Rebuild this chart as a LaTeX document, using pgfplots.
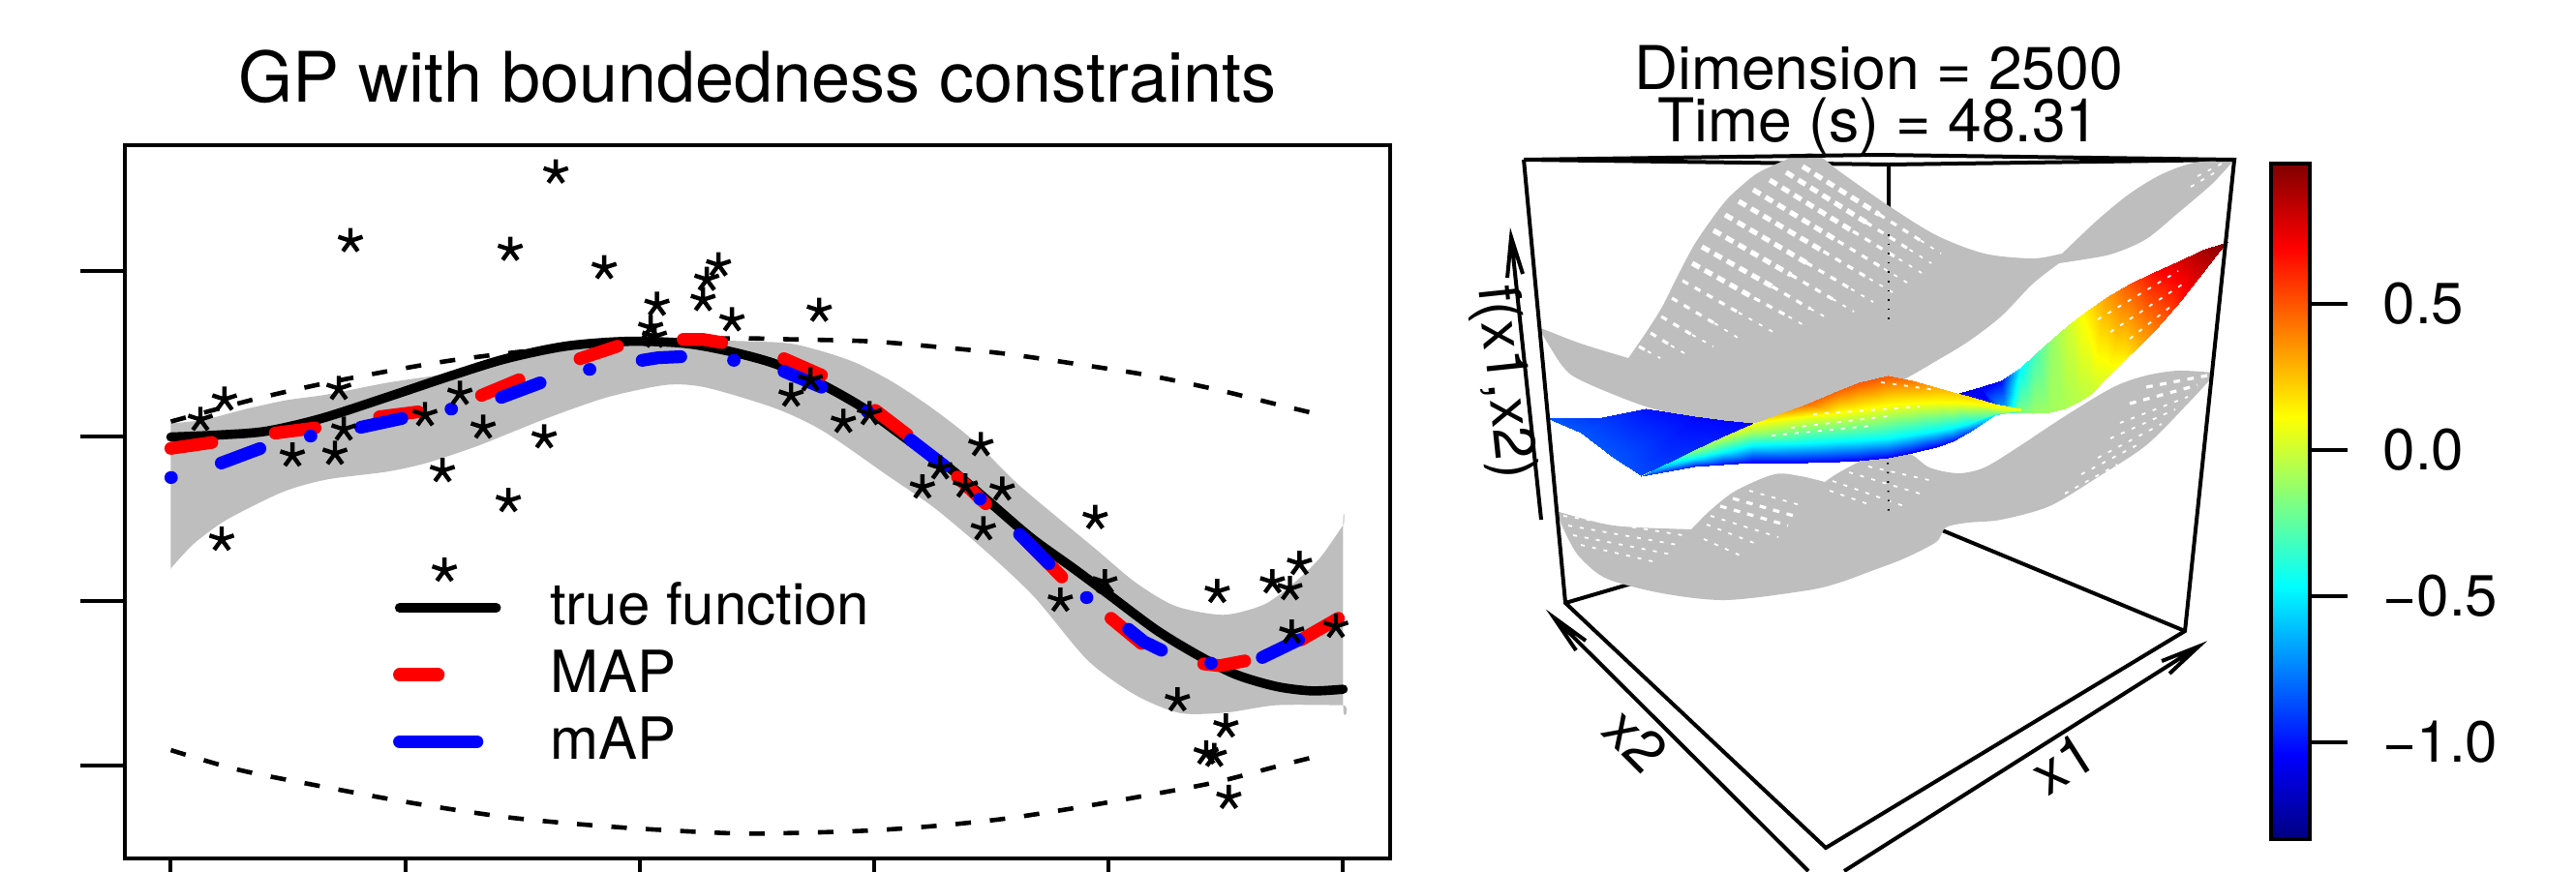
\documentclass[border=0pt]{standalone}
\usepackage{fontspec}
\setmainfont{TeX Gyre Heros}
\usepackage{pgfplots}
\pgfplotsset{compat=1.18}
\usepgfplotslibrary{patchplots}
\definecolor{surfgray}{HTML}{BEBEBE}
% 1 px of the reference = 0.25pt
\pgfplotsset{
  holeA/.style={white, line width=1.3pt, dash pattern=on 2.2pt off 1.5pt, unbounded coords=jump},
  holeB/.style={white, line width=.8pt, dash pattern=on 1.7pt off 1.9pt, unbounded coords=jump},
  holeC/.style={white, line width=.45pt, dash pattern=on 1pt off 2pt, unbounded coords=jump},
  boxline/.style={black, line width=1pt, unbounded coords=jump},
}
\begin{document}
\begin{tikzpicture}
\path[use as bounding box] (0,0) rectangle (665.25pt,225pt);

% left panel
\begin{axis}[
  at={(32.25pt,3.25pt)}, anchor=south west,
  width=326.75pt, height=184.25pt, scale only axis,
  xmin=-0.0392, xmax=1.0401, ymin=-2.566, ymax=1.767,
  xtick={0,0.2,0.4,0.6,0.8,1}, ytick={-2,-1,0,1},
  xticklabels={}, yticklabels={},
  tick align=outside, tick pos=left,
  major tick length=11.5pt,
  axis line style={line width=1pt},
  tick style={black, line width=1pt},
  title={GP with boundedness constraints},
  every axis title shift=0pt,
  title style={at={(0.5,1)}, anchor=base, yshift=11pt, inner sep=0pt, font=\fontsize{18}{20}\selectfont},
  legend style={at={(axis cs:0.184,-0.885)}, anchor=north west, draw=none, fill=none,
    inner sep=0pt, row sep=2.3pt, font=\fontsize{15}{18}\selectfont,
    nodes={inner sep=0pt, text height=11pt, text depth=4pt}},
  legend cell align=left,
  legend image code/.code={\path (0pt,0pt) (38.7pt,0pt); \draw[#1] (1.5pt,1pt) -- (26.5pt,1pt);},
]
% grey band
\addplot[fill=surfgray, draw=none, forget plot, smooth, tension=.45] coordinates {
(0,.076)(0,.076)(.029,.100)(.064,.164)(.098,.217)(.133,.252)(.184,.323)(.245,.393)(.320,.540)(.389,.587)
(.515,.570)(.549,.528)(.584,.446)(.617,.323)(.652,.156)(.686,-.035)(.721,-.282)(.755,-.487)
(.789,-.687)(.823,-.890)(.857,-1.033)(.898,-1.086)(.933,-1.022)(.960,-.881)(.981,-.734)(1,-.540)(1,-.540)
(1,-1.635)(1,-1.635)(.943,-1.635)(.901,-1.679)(.861,-1.683)(.823,-1.574)(.782,-1.362)(.737,-.981)(.697,-.711)
(.652,-.440)(.611,-.238)(.556,.032)(.515,.170)(.457,.294)(.423,.311)(.372,.235)(.320,.106)
(.262,-.059)(.218,-.164)(.184,-.217)(.133,-.264)(.095,-.341)(.047,-.511)(.019,-.658)(0,-.804)(0,-.804)
} -- cycle;
% bounds
\addplot[black, line width=1.15pt, dash pattern=on 4pt off 4.9pt, smooth, forget plot] coordinates {
(0,.088)(.071,.223)(.125,.311)(.176,.382)(.238,.458)(.304,.517)(.372,.569)(.475,.593)(.532,.587)
(.597,.575)(.656,.540)(.713,.499)(.775,.435)(.833,.370)(.892,.282)(.946,.188)(.984,.123)};
\addplot[black, line width=1.15pt, dash pattern=on 4pt off 4.9pt, smooth, forget plot] coordinates {
(0,-1.908)(.057,-2.026)(.127,-2.126)(.205,-2.228)(.291,-2.319)(.385,-2.378)(.478,-2.413)(.532,-2.411)
(.597,-2.396)(.656,-2.366)(.713,-2.323)(.775,-2.255)(.833,-2.182)(.892,-2.102)(.946,-2.002)(.984,-1.934)};
% true function
\addplot[black, line width=2.4pt, line cap=round, smooth, forget plot] coordinates {
(0,-.006)(.040,.006)(.081,.029)(.128,.106)(.184,.235)(.238,.364)(.286,.470)(.337,.546)(.389,.575)
(.437,.564)(.475,.517)(.515,.440)(.556,.311)(.594,.156)(.631,-.035)(.662,-.182)(.697,-.393)
(.734,-.619)(.769,-.799)(.799,-.957)(.841,-1.180)(.878,-1.339)(.909,-1.450)(.943,-1.521)(.973,-1.548)(1,-1.538)};
% MAP
\addplot[red, line width=3.3pt, line cap=round, line join=round, unbounded coords=jump, forget plot] coordinates {
(0,-.075)(.035,-.039)(nan,nan)
(.089,.018)(.123,.049)(nan,nan)
(.178,.117)(.211,.147)(nan,nan)
(.265,.247)(.297,.342)(nan,nan)
(.349,.470)(.381,.546)(nan,nan)
(.437,.587)(.454,.587)(.470,.568)(nan,nan)
(.523,.470)(.555,.370)(nan,nan)
(.601,.156)(.628,.009)(nan,nan)
(.671,-.249)(.695,-.411)(nan,nan)
(.729,-.631)(.760,-.856)(nan,nan)
(.802,-1.107)(.828,-1.260)(nan,nan)
(.881,-1.384)(.895,-1.395)(.916,-1.366)(nan,nan)
(.964,-1.238)(.996,-1.107)};
% mAP
\addplot[blue, line width=3.3pt, line cap=round, line join=round, unbounded coords=jump, forget plot] coordinates {
(0,-.252)(.0005,-.252)(nan,nan)
(.043,-.164)(.076,-.076)(nan,nan)
(.119,0)(.1195,0)(nan,nan)
(.162,.053)(.197,.107)(nan,nan)
(.239,.164)(.2395,.164)(nan,nan)
(.282,.235)(.315,.323)(nan,nan)
(.357,.405)(.3575,.405)(nan,nan)
(.402,.460)(.416,.476)(.435,.482)(nan,nan)
(.480,.460)(.4805,.460)(nan,nan)
(.523,.393)(.555,.297)(nan,nan)
(.594,.149)(.5945,.149)(nan,nan)
(.631,-.023)(.660,-.182)(nan,nan)
(.690,-.382)(.6905,-.382)(nan,nan)
(.724,-.597)(.749,-.775)(nan,nan)
(.781,-.981)(.7815,-.981)(nan,nan)
(.817,-1.174)(.830,-1.249)(.845,-1.301)(nan,nan)
(.887,-1.380)(.8875,-1.380)(nan,nan)
(.931,-1.345)(.962,-1.238)};
% observations
\addplot[only marks, mark=star, mark size=3.3pt, mark options={black, line width=1.1pt}, forget plot] coordinates {
(.3284,1.603)(.1532,1.186)(.2895,1.133)(.3697,1.022)(.4672,1.039)(.4572,.951)(.4540,.828)(.4147,.799)
(.4787,.705)(.4093,.658)(.4126,.605)(.0458,.223)(.0252,.100)(.1433,.288)(.2466,.258)(.1475,.041)
(.2168,.129)(.2664,.053)(.1037,-.117)(.1400,-.106)(.3185,-.006)(.2317,-.211)(.2879,-.393)(.0434,-.628)
(.2334,-.816)(.5531,.763)(.5456,.341)(.5291,.247)(.5737,.088)(.5960,.135)(.6910,-.053)(.6563,-.194)
(.6411,-.311)(.6778,-.305)(.7092,-.323)(.6931,-.564)(.7885,-.496)(.7588,-.998)(.7968,-.887)(.8926,-.945)
(.9397,-.887)(.9628,-.775)(.9546,-.928)(.9562,-1.192)(.9938,-1.157)(.8587,-1.603)(.9000,-1.762)
(.8832,-1.926)(.8901,-1.941)(.9025,-2.196)};
\addlegendimage{black, line width=2.4pt, line cap=round}
\addlegendentry{true function}
\addlegendimage{red, line width=3.3pt, line cap=round, dash pattern=on 10pt off 50pt}
\addlegendentry{MAP}
\addlegendimage{blue, line width=3.3pt, line cap=round, dash pattern=on 20pt off 50pt}
\addlegendentry{mAP}
\end{axis}

% colour bar
\begin{axis}[
  at={(586.5pt,8.25pt)}, anchor=south west,
  width=10pt, height=174.5pt, scale only axis,
  xmin=0, xmax=1, ymin=-1.331, ymax=0.98,
  colormap/jet, point meta min=-1.331, point meta max=0.98,
  xtick=\empty,
  ytick={-1,-0.5,0,0.5},
  yticklabels={−1.0,−0.5,0.0,0.5},
  ytick pos=right, yticklabel pos=right,
  tick align=outside, major tick length=9.75pt,
  axis line style={line width=1pt},
  tick style={black, line width=1pt},
  yticklabel style={font=\fontsize{15}{18}\selectfont, inner sep=0pt, xshift=9pt},
  axis on top,
]
\addplot[surf, shader=interp, point meta=y, mesh/rows=2, mesh/cols=2] coordinates {
(0,-1.331)(1,-1.331)
(0,0.98)(1,0.98)};
\end{axis}

% right panel, in pixel coordinates of the projected view
\begin{axis}[
  at={(0pt,0pt)}, anchor=south west,
  width=665.25pt, height=225pt, scale only axis,
  xmin=0, xmax=2661, ymin=0, ymax=900, y dir=reverse,
  hide axis, clip=false,
  colormap/jet, point meta min=-1.331, point meta max=0.98,
]
% box, back part
\addplot[boxline] coordinates {
(1574,165)(1951,170)(2308,165)(nan,nan)
(1951,170)(1951,525)(nan,nan)
(1617,623)(1951,525)(2257,652)};
% grey surfaces
\addplot[fill=surfgray, draw=none, smooth, tension=.5] coordinates {
(1607,528)(1607,528)(1667,543)(1747,547)(1747,547)(1767,527)(1793,507)(1833,490)(1860,492)(1885,498)(1885,498)(1900,488)(1933,472)
(1970,468)(1993,483)(2023,489)(2050,483)(2083,463)(2133,430)(2183,400)(2217,388)(2250,383)(2287,385)(2287,385)
(2283,392)(2260,417)(2217,460)(2167,493)(2117,523)(2067,537)(2033,540)(2010,545)(2000,560)(1967,577)
(1933,590)(1900,602)(1867,610)(1783,620)(1717,613)(1660,598)(1633,577)(1620,557)(1607,528)} -- cycle;
\addplot[fill=surfgray, draw=none, smooth, tension=.5] coordinates {
(1589,338)(1589,338)(1633,355)(1682,370)(1682,370)(1700,344)(1717,317)(1733,285)(1750,253)(1767,228)(1783,207)(1800,191)
(1817,178)(1850,163)(1870,158)(1885,165)(1900,177)(1950,212)(2000,243)(2050,262)(2100,267)(2130,262)(2130,262)
(2167,227)(2200,200)(2233,180)(2267,168)(2308,165)(2308,165)(2285,190)(2250,220)(2217,247)(2183,262)
(2153,268)(2127,272)(2127,272)(2100,293)(2067,327)(2033,353)(2000,373)(1967,392)(1930,410)(1890,425)(1850,435)
(1810,437)(1767,435)(1700,420)(1633,393)(1613,377)(1589,338)} -- cycle;
% wire holes of the upper surface
\addplot[holeA] coordinates {
(1862,172)(1941,221.5)(nan,nan)(1845,178)(1927.5,229.7)(nan,nan)(1828,186)(1914,239)(nan,nan)
(1811,196)(1898.5,249)(nan,nan)(1796,208)(1883.5,259.7)(nan,nan)(1782,222)(1866,271.5)(nan,nan)
(1770,238)(1850,284)(nan,nan)(1758,255)(1830.6,296)(nan,nan)(1748,272)(1812,308)};
\addplot[holeB] coordinates {
(1941,221.5)(1984,248.5)(nan,nan)(1927.5,229.7)(1972.5,257.9)(nan,nan)(1914,239)(1961.5,267.6)(nan,nan)
(1898.5,249)(1946,277.6)(nan,nan)(1883.5,259.7)(1931,288)(nan,nan)(1866,271.5)(1912,298.5)(nan,nan)
(1850,284)(1893,309)(nan,nan)(1830.6,296)(1870,319)(nan,nan)(1812,308)(1847.5,327)(nan,nan)
(1738,290)(1796,323)(nan,nan)(1727,308)(1771,334)(nan,nan)(1716,327)(1748,346)(nan,nan)
(1705,344)(1726,357)(nan,nan)(1693,358)(1702,363)};
\addplot[holeC] coordinates {
(1984,248.5)(2005,262)(nan,nan)(1972.5,257.9)(1995,272)(nan,nan)(1961.5,267.6)(1985,282)(nan,nan)
(1946,277.6)(1970,292)(nan,nan)(1931,288)(1955,302)(nan,nan)(1912,298.5)(1935,312)(nan,nan)
(1893,309)(1915,322)(nan,nan)(1870,319)(1890,330)(nan,nan)(1847.5,327)(1865,337)(nan,nan)
(1796,323)(1835,345)(nan,nan)(1771,334)(1800,352)(nan,nan)(1748,346)(1770,358)(nan,nan)
(1726,357)(1740,365)(nan,nan)(1702,363)(1715,370)(nan,nan)
(2270,182)(2297,168)(nan,nan)(2263,193)(2290,177)};
% wire holes of the lower surface
\addplot[holeB] coordinates {
(1777,523)(1847,543)(nan,nan)(1790,515)(1853,533)(nan,nan)
(2217,400)(2280,388)(nan,nan)(2200,417)(2270,398)};
\addplot[holeC] coordinates {
(1615,533)(1738,553)(nan,nan)(1620,543)(1733,563)(nan,nan)(1625,553)(1727,573)(nan,nan)(1633,563)(1707,580)(nan,nan)
(1767,533)(1837,555)(nan,nan)(1807,507)(1860,522)(nan,nan)
(1763,542)(1817,563)(nan,nan)(1760,557)(1800,575)(nan,nan)
(1893,497)(1967,523)(nan,nan)(1910,488)(1983,510)(nan,nan)(1930,482)(1997,497)(nan,nan)(1890,507)(1933,522)(nan,nan)
(2190,437)(2260,410)(nan,nan)(2180,453)(2247,423)(nan,nan)
(2167,473)(2233,438)(nan,nan)(2150,490)(2213,457)(nan,nan)(2133,510)(2187,480)};
% back edge seen through the holes
\addplot[black, line width=.5pt, dash pattern=on .4pt off 2pt] coordinates {(1951,242)(1951,330)};
\addplot[black, line width=.5pt, dash pattern=on .4pt off 2pt] coordinates {(1950,478)(1951,532)};
% coloured surface: rising right part
\addplot[surf, shader=interp, point meta=explicit, mesh/rows=15, mesh/cols=2, draw=none] coordinates {
(2020,407)[-1.1] (2060,425)[-1.0]
(2045,400)[-1.08] (2072,426)[-.6]
(2067,393)[-1.02] (2085,426)[-.2]
(2087,380)[-.47] (2100,427)[-.12]
(2103,365)[-.3] (2117,426)[-.1]
(2120,350)[-.12] (2133,422)[-.08]
(2136,336)[0] (2147,415)[-.05]
(2153,323)[.13] (2160,407)[-.02]
(2176,307)[.33] (2176,390)[.05]
(2200,293)[.5] (2193,373)[.13]
(2225,281)[.67] (2210,357)[.28]
(2250,270)[.78] (2227,340)[.42]
(2275,258)[.89] (2253,310)[.65]
(2300,250)[.98] (2285,265)[.9]
(2301,250)[.98] (2301,250)[.98]};
% blue left part
\addplot[surf, shader=interp, point meta=explicit, mesh/rows=6, mesh/cols=2, draw=none] coordinates {
(1598,432)[-.85] (1598,432)[-.85]
(1650,432)[-.92] (1633,447)[-.85]
(1700,422)[-1.0] (1667,473)[-.85]
(1750,430)[-1.03] (1695,491)[-.88]
(1780,434)[-1.03] (1750,465)[-.95]
(1810,437)[-1.03] (1810,438)[-1.0]};
% front part
\addplot[surf, shader=interp, point meta=explicit, mesh/rows=14, mesh/cols=4, draw=none] coordinates {
(1695,492)[-.95] (1695,492)[-.9] (1695,492)[-.85] (1695,492)[-.8]
(1750,482)[-1.0] (1750,474)[-.5] (1750,468)[-.25] (1750,465)[-.15]
(1780,480)[-1.02] (1780,467)[-.47] (1780,456)[-.15] (1780,451)[-.02]
(1810,478)[-1.05] (1810,460)[-.47] (1810,445)[-.05] (1810,438)[.08]
(1867,478)[-1.05] (1867,458)[-.47] (1867,432)[.05] (1867,417)[.45]
(1900,477)[-1.05] (1900,456)[-.47] (1900,428)[.08] (1900,403)[.47]
(1920,476)[-1.05] (1920,455)[-.47] (1920,424)[.1] (1920,395)[.5]
(1950,473)[-1.05] (1950,453)[-.47] (1950,418)[.12] (1950,388)[.5]
(1975,468)[-1.05] (1975,449)[-.47] (1975,416)[.12] (1975,393)[.42]
(2000,462)[-1.05] (2000,445)[-.47] (2000,415)[.12] (2000,400)[.3]
(2017,456)[-1.0] (2017,442)[-.47] (2017,416)[.11] (2017,405)[.25]
(2033,447)[-.9] (2033,438)[-.47] (2033,417)[.1] (2033,409)[.22]
(2060,429)[-.5] (2060,427)[-.2] (2060,420)[.1] (2060,417)[.12]
(2087,424)[.05] (2087,424)[.06] (2087,423)[.07] (2087,422)[.08]};
% holes of the coloured surface
\addplot[holeC] coordinates {
(2180,343)(2260,290)(nan,nan)(2200,350)(2247,313)(nan,nan)(2167,330)(2250,280)(nan,nan)
(1830,450)(1933,440)(nan,nan)(1850,442)(1950,430)(nan,nan)(1873,428)(1983,420)(nan,nan)
(1943,395)(2000,403)};
% box, front part
\addplot[boxline] coordinates {
(1574,165)(1940,160)(2308,165)(2257,652)(1886,876)(1617,623)(1574,165)};
% outer axes with arrows
\addplot[boxline] coordinates {
(1592,537)(1561,245)(nan,nan)(1557,287)(1561,245)(1573,283)(nan,nan)
(1868,900)(1605,638)(nan,nan)(1628,672)(1605,638)(1638,662)(nan,nan)
(1905,900)(2271,668)(nan,nan)(2233,683)(2271,668)(2241,696)};
\node[anchor=base, inner sep=0pt, font=\fontsize{15.6}{18}\selectfont] at (axis cs:1940.5,92) {Dimension = 2500};
\node[anchor=base, inner sep=0pt, font=\fontsize{15.6}{18}\selectfont] at (axis cs:1940.5,146) {Time (s) = 48.31};
\node[rotate=-84, inner sep=0pt, font=\fontsize{15}{18}\selectfont] at (axis cs:1553,395) {f(x1,x2)};
\node[rotate=-45, inner sep=0pt, font=\fontsize{15}{18}\selectfont] at (axis cs:1690,765) {x2};
\node[rotate=32.5, inner sep=0pt, font=\fontsize{15}{18}\selectfont] at (axis cs:2131,789) {x1};
\end{axis}
\end{tikzpicture}
\end{document}
